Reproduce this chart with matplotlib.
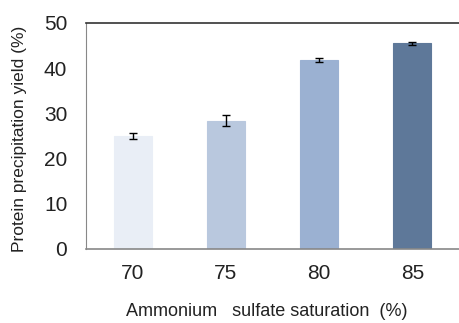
import matplotlib
matplotlib.use("Agg")
import matplotlib.pyplot as plt
import numpy as np

# data
saturation = ["70", "75", "80", "85"]
yield_pct = [25.0, 28.4, 41.8, 45.5]
yield_err = [0.6, 1.2, 0.5, 0.3]
bar_colors = ["#E9EEF6", "#B9C8DE", "#9BB1D2", "#5E7899"]

plt.rcParams['font.family'] = ['Liberation Sans', 'DejaVu Sans']

fig = plt.figure(figsize=(4.59, 3.23), dpi=100)
ax = fig.add_axes([86/459, 1-249/323, (459-86)/459, (249-23)/323])

x = np.arange(len(saturation))
ax.bar(x, yield_pct, width=0.41, color=bar_colors, edgecolor=bar_colors, linewidth=0.8,
       yerr=yield_err, ecolor='black', capsize=3, error_kw={'elinewidth': 1, 'capthick': 1})

ax.set_xlim(-0.5, 3.5)
ax.set_ylim(0, 50)
ax.set_yticks([0, 10, 20, 30, 40, 50])
ax.set_xticks(x)
ax.set_xticklabels(saturation)
ax.tick_params(axis='both', length=0, labelsize=15, colors='#222222')
ax.tick_params(axis='x', pad=11)
ax.tick_params(axis='y', pad=13.5)

ax.spines['right'].set_visible(False)
ax.spines['top'].set_color('#333333')
ax.spines['top'].set_linewidth(1.2)
ax.spines['left'].set_color('#888888')
ax.spines['bottom'].set_color('#888888')
ax.spines['bottom'].set_linewidth(1.2)

fig.text(20/459, 1-139/323, "Protein precipitation yield (%)", rotation=90,
         ha='center', va='center', fontsize=12.5, color='#222222')
fig.text(267/459, 1-312/323, "Ammonium   sulfate saturation  (%)",
         ha='center', va='center', fontsize=13, color='#222222')

fig.savefig("out.png", dpi=100)
